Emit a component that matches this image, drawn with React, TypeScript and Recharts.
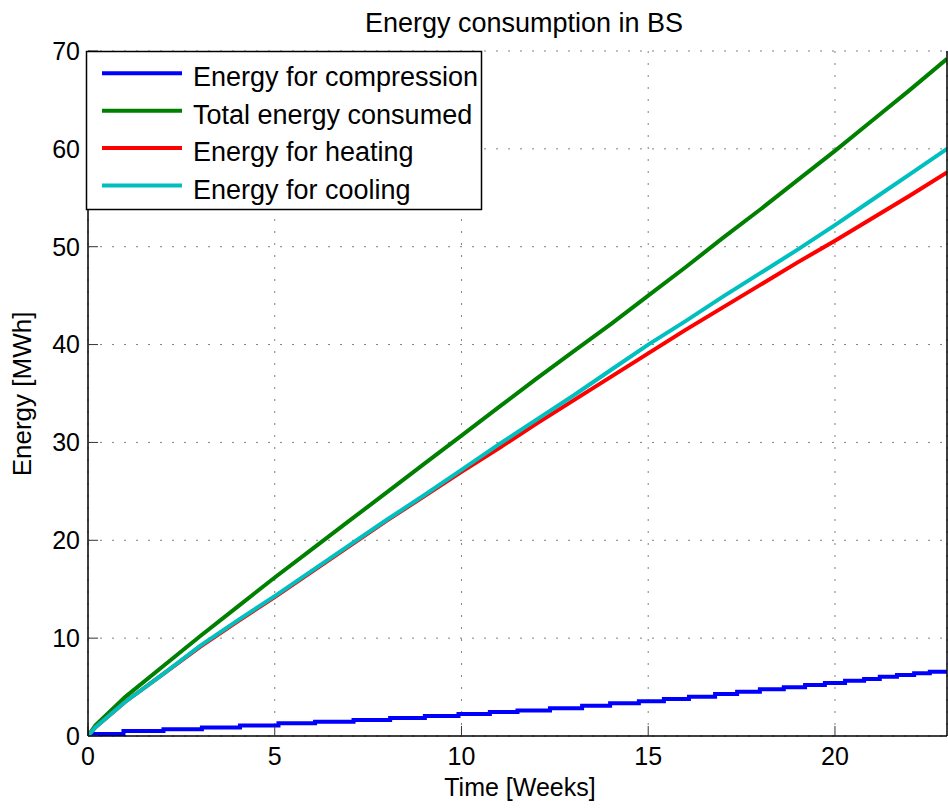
import React from "react"
import {
  LineChart,
  Line,
  XAxis,
  YAxis,
  CartesianGrid,
} from "recharts"

const weeks = [0, 0.2, 1, 2, 3, 4, 5, 6, 7, 8, 9, 10, 11, 12, 13, 14, 15, 16, 17, 18, 19, 20, 21, 22, 23]

const totalEnergy = [0, 1.1, 4.0, 7.1, 10.2, 13.2, 16.2, 19.1, 22.0, 24.9, 27.8, 30.7, 33.6, 36.5, 39.3, 42.1, 45.0, 47.9, 50.9, 53.8, 56.8, 59.8, 62.9, 66.0, 69.2]
const heatingEnergy = [0, 0.9, 3.5, 6.3, 9.1, 11.7, 14.2, 16.8, 19.4, 22.0, 24.5, 27.0, 29.4, 31.9, 34.3, 36.7, 39.1, 41.5, 43.8, 46.1, 48.4, 50.6, 52.9, 55.2, 57.6]
const coolingEnergy = [0, 0.9, 3.5, 6.3, 9.2, 11.8, 14.3, 16.9, 19.5, 22.1, 24.6, 27.2, 29.8, 32.3, 34.8, 37.4, 40.0, 42.4, 44.9, 47.3, 49.7, 52.2, 54.8, 57.4, 60.0]

// compression energy grows in steps
const compressionWeeks = [0, 0.95, 2.02, 3.05, 4.07, 5.1, 6.08, 7.11, 8.09, 9.02, 9.92, 10.76, 11.5, 12.37, 13.23, 13.98, 14.75, 15.42, 16.09, 16.79, 17.38, 17.99, 18.63, 19.2, 19.73, 20.27, 20.78, 21.2, 21.66, 22.12, 22.54, 23]
const compressionEnergy = [0.2, 0.5, 0.7, 0.88, 1.07, 1.3, 1.46, 1.64, 1.84, 2.05, 2.25, 2.45, 2.6, 2.83, 3.1, 3.34, 3.55, 3.78, 4.02, 4.3, 4.53, 4.77, 4.98, 5.21, 5.42, 5.65, 5.83, 6.06, 6.24, 6.41, 6.57, 6.6]

const xTicks = [0, 5, 10, 15, 20]
const yTicks = [0, 10, 20, 30, 40, 50, 60, 70]

const toPoints = (xs: number[], ys: number[]) => xs.map((t, i) => ({ t, v: ys[i] }))

const series = [
  { name: "Energy for compression", color: "#0000ff", data: toPoints(compressionWeeks, compressionEnergy), type: "stepAfter" as const },
  { name: "Total energy consumed", color: "#008000", data: toPoints(weeks, totalEnergy), type: "linear" as const },
  { name: "Energy for heating", color: "#ff0000", data: toPoints(weeks, heatingEnergy), type: "linear" as const },
  { name: "Energy for cooling", color: "#00bfbf", data: toPoints(weeks, coolingEnergy), type: "linear" as const },
]

const font = '"Liberation Sans", Arial, Helvetica, sans-serif'
const tickStyle = { fontSize: 25, fill: "#000", fontFamily: font }

export default function App() {
  return (
    <div style={{ position: "absolute", left: 0, top: 0, width: 948, height: 809, background: "#fff" }}>
      <LineChart width={948} height={809} margin={{ top: 51, right: 0, left: 0, bottom: 0 }}>
        <CartesianGrid stroke="#808080" strokeDasharray="2 10" />
        <XAxis
          dataKey="t"
          type="number"
          domain={[0, 23]}
          ticks={xTicks}
          allowDataOverflow
          height={73}
          tick={tickStyle}
          tickSize={-10}
          tickMargin={21}
          tickLine={{ stroke: "#333" }}
          axisLine={{ stroke: "#000", strokeWidth: 1.5 }}
        />
        <XAxis
          xAxisId="top"
          orientation="top"
          type="number"
          domain={[0, 23]}
          ticks={xTicks}
          allowDataOverflow
          height={0}
          tick={false}
          tickSize={-10}
          tickLine={{ stroke: "#333" }}
          axisLine={{ stroke: "#000", strokeWidth: 1.5 }}
        />
        <YAxis
          type="number"
          domain={[0, 70]}
          ticks={yTicks}
          allowDataOverflow
          width={88}
          tick={tickStyle}
          tickSize={-10}
          tickMargin={18}
          tickLine={{ stroke: "#333" }}
          axisLine={{ stroke: "#000", strokeWidth: 1.5 }}
        />
        <YAxis
          yAxisId="right"
          orientation="right"
          type="number"
          domain={[0, 70]}
          ticks={yTicks}
          allowDataOverflow
          width={1}
          tick={false}
          tickSize={-10}
          tickLine={{ stroke: "#333" }}
          axisLine={{ stroke: "#000", strokeWidth: 1.5 }}
        />
        {series.map((s) => (
          <Line
            key={s.name}
            data={s.data}
            dataKey="v"
            type={s.type}
            stroke={s.color}
            strokeWidth={4}
            dot={false}
            name={s.name}
            isAnimationActive={false}
          />
        ))}
      </LineChart>

      <svg
        width={948}
        height={809}
        style={{ position: "absolute", left: 0, top: 0, pointerEvents: "none" }}
        fontFamily={font}
      >
        <text x={524} y={32} fontSize={27} textAnchor="middle" fill="#000">
          Energy consumption in BS
        </text>
        <text x={520} y={796} fontSize={25} textAnchor="middle" fill="#000">
          Time [Weeks]
        </text>
        <text transform="translate(31,394) rotate(-90)" fontSize={26} textAnchor="middle" fill="#000">
          Energy [MWh]
        </text>
        <rect x={86.5} y={51.5} width={395} height={158} fill="#fff" stroke="#000" strokeWidth={1.5} />
        {series.map((s, i) => {
          const y = 73.3 + i * 37.4
          return (
            <g key={s.name}>
              <line x1={102} x2={182} y1={y} y2={y} stroke={s.color} strokeWidth={4} />
              <text x={193} y={y + 13} fontSize={27} fill="#000">
                {s.name}
              </text>
            </g>
          )
        })}
      </svg>
    </div>
  )
}
